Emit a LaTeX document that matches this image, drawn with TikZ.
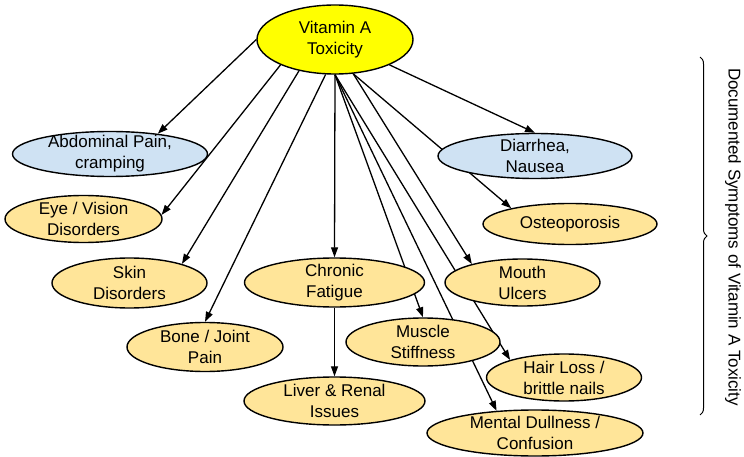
\documentclass[tikz,border=0pt]{standalone}
\usepackage{fontspec}
\setmainfont{Liberation Sans}
\usetikzlibrary{shapes.geometric,arrows.meta,decorations.pathreplacing}
\definecolor{Lemon}{HTML}{FFFF00}
\definecolor{Sand}{HTML}{FFE599}
\definecolor{Sky}{HTML}{CFE2F3}
\pgfdeclarelayer{background}
\pgfsetlayers{background,main}
\tikzset{
  symptom node/.style={ellipse,draw=black,line width=1.4pt,fill=Sand,align=center,
    font=\fontsize{17}{21}\selectfont,inner xsep=0pt,inner ysep=-5pt,
    minimum height=47pt,yshift=-1pt},
  digestive node/.style={symptom node,fill=Sky,minimum height=45pt},
  toxicity node/.style={symptom node,fill=Lemon,minimum width=156pt,minimum height=69pt},
  symptom arrow/.style={-{Triangle[length=10pt,width=7pt]},line width=1.3pt,draw=black},
  side brace/.style={decorate,decoration={brace,amplitude=7pt},line width=1pt,draw=black}
}
\begin{document}
\begin{tikzpicture}[x=1pt,y=-1pt]
  \useasboundingbox (0,0) rectangle (744,457);
  \node[toxicity node] (vitamin) at (335,38.5) {Vitamin A\\Toxicity};
  \node[digestive node,minimum width=195pt] (abdominal) at (110,153) {Abdominal Pain,\\cramping};
  \node[digestive node,minimum width=194pt] (diarrhea) at (535,155) {Diarrhea,\\Nausea};
  \node[symptom node,minimum width=157pt] (eye) at (83.5,218) {Eye / Vision\\Disorders};
  \node[symptom node,minimum width=174pt,minimum height=41pt] (osteo) at (570,223) {Osteoporosis};
  \node[symptom node,minimum width=155pt,minimum height=50pt] (skin) at (129.5,282) {Skin\\Disorders};
  \node[symptom node,minimum width=180pt,minimum height=49pt] (fatigue) at (334.5,281.5) {Chronic\\Fatigue};
  \node[symptom node,minimum width=155pt] (mouth) at (522.5,281.5) {Mouth\\Ulcers};
  \node[symptom node,minimum width=156pt,minimum height=49pt] (bone) at (205,346) {Bone / Joint\\Pain};
  \node[symptom node,minimum width=154pt,minimum height=48pt] (muscle) at (423,341) {Muscle\\Stiffness};
  \node[symptom node,minimum width=181pt,minimum height=48pt] (liver) at (334.5,400) {Liver \& Renal\\Issues};
  \node[symptom node,minimum width=155pt] (hair) at (564,376.5) {Hair Loss /\\brittle nails};
  \node[symptom node,minimum width=216pt,minimum height=46pt] (mental) at (535,432) {Mental Dullness /\\Confusion};

  % connectors stay behind the ellipses
  \begin{pgfonlayer}{background}
    \draw[symptom arrow] (vitamin.west) -- (abdominal.23);
    \draw[symptom arrow] (vitamin.205) -- (eye.3);
    \draw[symptom arrow] (vitamin.221) -- (skin.20);
    \draw[symptom arrow] (vitamin.255) -- (bone.north);
    \draw[symptom arrow] (vitamin.south) -- (fatigue.north);
    \draw[symptom arrow] (fatigue.south) -- (liver.north);
    \draw[symptom arrow] (vitamin.south) -- (muscle.north);
    \draw[symptom arrow] (vitamin.south) -- (mental.150);
    \draw[symptom arrow] (vitamin.south) -- (hair.162);
    \draw[symptom arrow] (vitamin.298) -- (mouth.160);
    \draw[symptom arrow] (vitamin.298) -- (osteo.165);
    \draw[symptom arrow] (vitamin.335) -- (diarrhea.north);
  \end{pgfonlayer}

  \coordinate (brace top) at (700,57);
  \coordinate (brace bottom) at (700,415);
  \draw[side brace] (brace top) -- (brace bottom);
  \node[rotate=-90,font=\fontsize{17}{20}\selectfont] (caption) at (733,237) {Documented Symptoms of Vitamin A Toxicity};
\end{tikzpicture}
\end{document}
